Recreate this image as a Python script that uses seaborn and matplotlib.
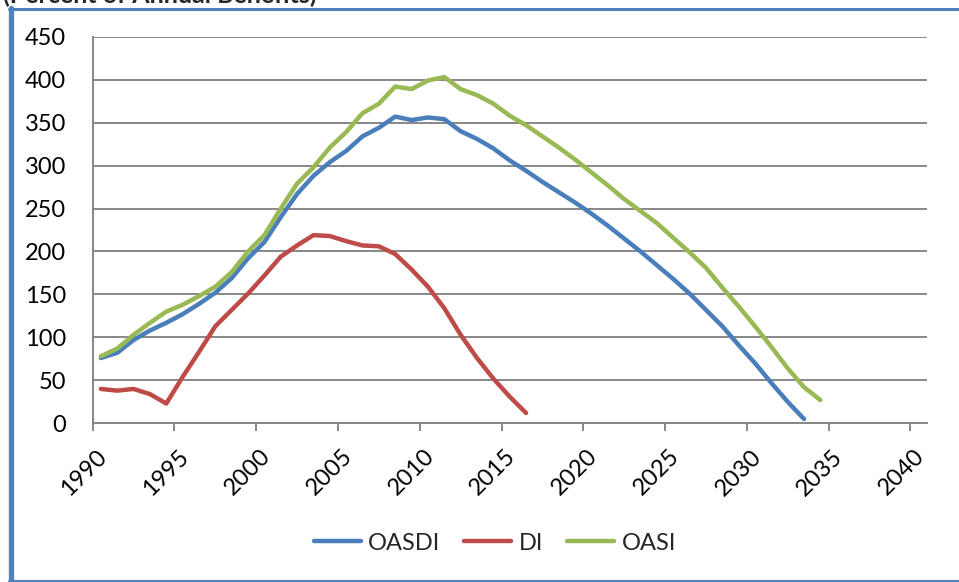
import numpy as np
import pandas as pd
import matplotlib
matplotlib.use("Agg")
import matplotlib.pyplot as plt
import matplotlib.transforms as mtransforms
from matplotlib.lines import Line2D
import seaborn as sns

# ---- data ----
series_names = ["OASDI", "DI", "OASI"]
start_year = 1990.5

oasdi = [76, 82, 97, 108, 117, 127, 139, 152, 169, 192,
         211, 240, 267, 288, 304, 317, 334, 344, 357, 353,
         356, 354, 340, 331, 320, 306, 294, 281, 269, 257,
         244, 230, 215, 200, 184, 168, 151, 132, 113, 91,
         70, 47, 25, 5]
di = [40, 38, 40, 34, 23, 54, 83, 113, 132, 151,
      172, 194, 207, 219, 218, 212, 207, 206, 197, 179,
      159, 134, 103, 76, 52, 31, 12]
oasi = [78, 87, 103, 117, 130, 138, 148, 159, 176, 200,
        219, 250, 279, 298, 321, 339, 361, 372, 392, 389,
        399, 403, 389, 382, 372, 358, 347, 334, 321, 307,
        292, 277, 261, 247, 233, 216, 199, 181, 158, 136,
        113, 89, 64, 42, 27]

x_ticks = [1990, 1995, 2000, 2005, 2010, 2015, 2020, 2025, 2030, 2035, 2040]
y_ticks = [0, 50, 100, 150, 200, 250, 300, 350, 400, 450]
title_text = "(Percent of Annual Benefits)"

colors = {"OASDI": "#4A7EBB", "DI": "#BE4B48", "OASI": "#98B954"}

frames = []
for name, vals in zip(series_names, [oasdi, di, oasi]):
    yrs = start_year + np.arange(len(vals))
    frames.append(pd.DataFrame({"year": yrs, "value": vals, "series": name}))
df = pd.concat(frames, ignore_index=True)

# ---- style ----
sns.set_style("white")
plt.rcParams["font.family"] = ["Lato", "DejaVu Sans"]

W, H = 959, 582
fig = plt.figure(figsize=(W / 100, H / 100), dpi=100)
left, right, top, bottom = 92.7, 926.7, 36.7, 423.3
ax = fig.add_axes([left / W, 1 - bottom / H, (right - left) / W, (bottom - top) / H])

sns.lineplot(data=df, x="year", y="value", hue="series", hue_order=series_names,
             palette=colors, linewidth=3.2, ax=ax, solid_capstyle="round",
             solid_joinstyle="round", legend=True)

grid_c = "#878787"
ax.set_xlim(1990, 2041)
ax.set_ylim(0, 450)
ax.set_xticks(x_ticks)
ax.set_yticks(y_ticks)
ax.set_xticklabels([str(t) for t in x_ticks], rotation=45, ha="right",
                   rotation_mode="anchor", va="center")
ax.yaxis.grid(True, color=grid_c, linewidth=1.4)
ax.xaxis.grid(False)
ax.set_axisbelow(True)
ax.set_xlabel("")
ax.set_ylabel("")
for s in ["top", "right"]:
    ax.spines[s].set_visible(False)
for s in ["left", "bottom"]:
    ax.spines[s].set_color(grid_c)
    ax.spines[s].set_linewidth(1.4)
ax.tick_params(axis="both", which="major", length=6, width=1.4, color=grid_c,
               labelsize=17, labelcolor="black", direction="out")
ax.tick_params(axis="y", pad=13)
ax.tick_params(axis="x", pad=14, bottom=True)

# shift rotated x labels so their upper end sits just right of the tick
offset = mtransforms.ScaledTranslation(11 / 100, -2 / 100, fig.dpi_scale_trans)
for lab in ax.get_xticklabels():
    lab.set_transform(lab.get_transform() + offset)

# legend
handles, labels = ax.get_legend_handles_labels()
ax.get_legend().remove()
fig.legend(handles, labels, loc="center", bbox_to_anchor=(0.516, 1 - 543 / H),
           ncol=3, frameon=False, fontsize=17, handlelength=2.0,
           handletextpad=0.32, columnspacing=1.0)

# chart border (partially visible frame)
bc = "#4F81BD"
fig.add_artist(Line2D([10.5 / W, 10.5 / W], [0, 1 - 8 / H], color=bc, linewidth=3.8,
                      transform=fig.transFigure))
fig.add_artist(Line2D([8.6 / W, 1.0], [1 - 8.5 / H, 1 - 8.5 / H], color=bc, linewidth=2.2,
                      transform=fig.transFigure))
fig.add_artist(Line2D([8.6 / W, 1.0], [1 - 581 / H, 1 - 581 / H], color=bc, linewidth=2.2,
                      transform=fig.transFigure))

# title, cut off at the top edge as in the reference
fig.text(3 / W, 1 - 3.5 / H, title_text, fontsize=18, fontweight="bold",
         ha="left", va="baseline")

fig.savefig("out.png", dpi=100)
